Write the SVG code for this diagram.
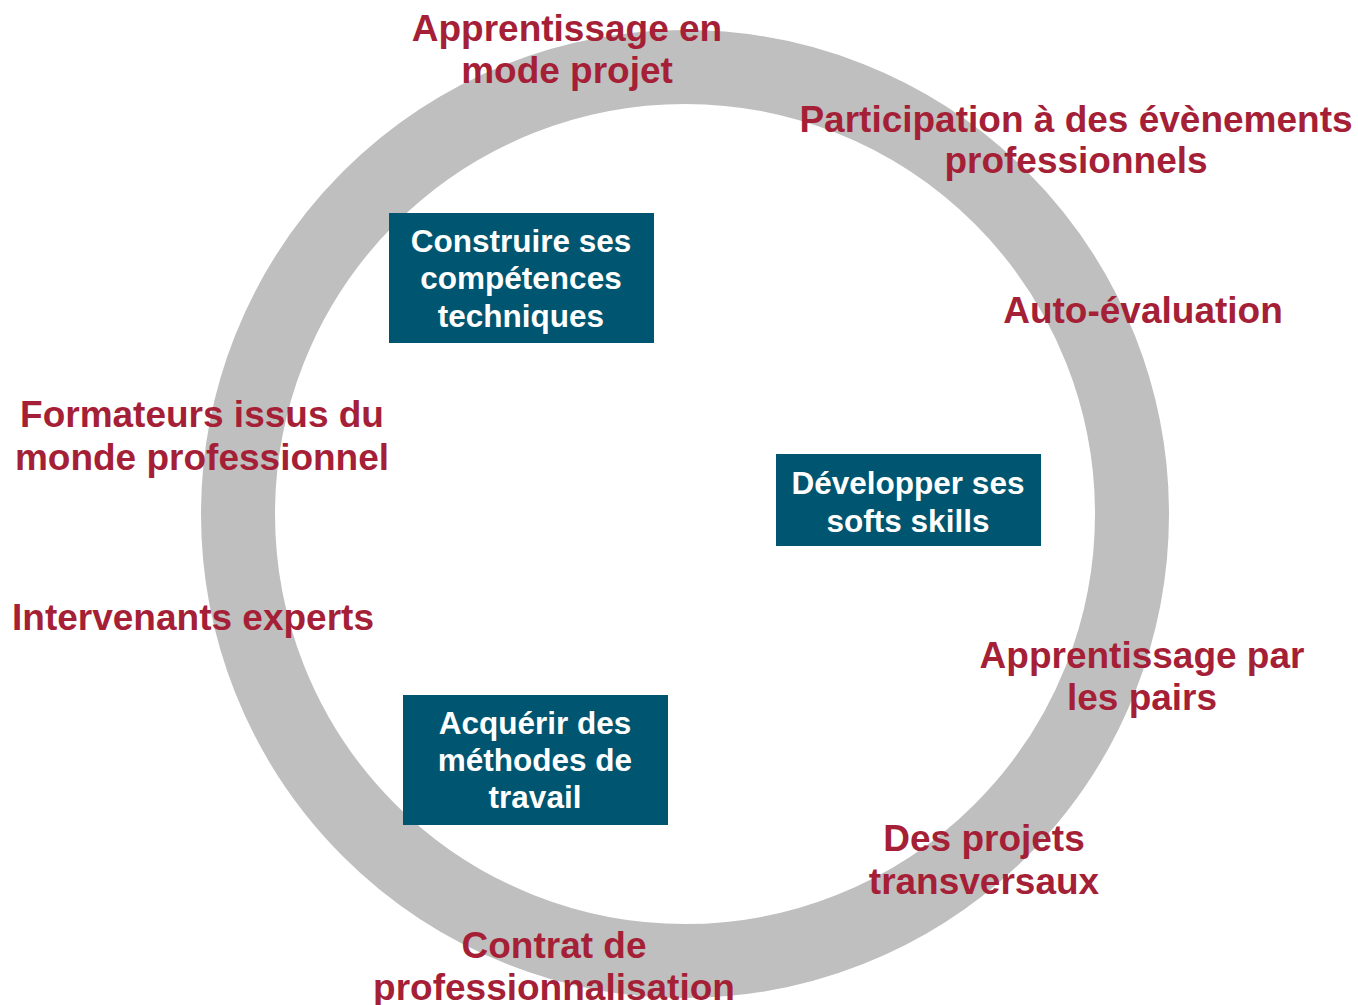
<svg xmlns="http://www.w3.org/2000/svg" width="1358" height="1005" viewBox="0 0 1358 1005">
<style>
.lbl{font-family:"Liberation Sans",Arial,sans-serif;font-weight:bold;font-size:37px;fill:#A51F37;text-anchor:middle}
.box{fill:#005670}
.bt{font-family:"Liberation Sans",Arial,sans-serif;font-weight:bold;font-size:31.5px;fill:#FFFFFF;text-anchor:middle}
</style>
<rect width="1358" height="1005" fill="#FFFFFF"/>
<g id="ring">
<circle cx="685" cy="514" r="447" fill="none" stroke="#BFBFBF" stroke-width="74"/>
</g>
<g id="connectors"></g>
<g id="node-construire">
<rect class="box" x="389" y="213" width="265" height="130"/>
<text class="bt" x="521" y="252">Construire ses</text>
<text class="bt" x="521" y="289">compétences</text>
<text class="bt" x="521" y="327">techniques</text>
</g>
<g id="node-developper">
<rect class="box" x="776" y="454" width="265" height="92"/>
<text class="bt" x="908" y="494">Développer ses</text>
<text class="bt" x="908" y="532">softs skills</text>
</g>
<g id="node-acquerir">
<rect class="box" x="403" y="695" width="265" height="130"/>
<text class="bt" x="535" y="734">Acquérir des</text>
<text class="bt" x="535" y="771">méthodes de</text>
<text class="bt" x="535" y="808">travail</text>
</g>
<g id="label-mode-projet">
<text class="lbl" x="567" y="41">Apprentissage en</text>
<text class="lbl" x="567" y="83">mode projet</text>
</g>
<g id="label-evenements">
<text class="lbl" x="1076" y="132">Participation à des évènements</text>
<text class="lbl" x="1076" y="173">professionnels</text>
</g>
<g id="label-auto">
<text class="lbl" x="1143" y="323">Auto-évaluation</text>
</g>
<g id="label-formateurs">
<text class="lbl" x="202" y="427">Formateurs issus du</text>
<text class="lbl" x="202" y="470">monde professionnel</text>
</g>
<g id="label-intervenants">
<text class="lbl" x="193" y="630">Intervenants experts</text>
</g>
<g id="label-pairs">
<text class="lbl" x="1142" y="668">Apprentissage par</text>
<text class="lbl" x="1142" y="710">les pairs</text>
</g>
<g id="label-transversaux">
<text class="lbl" x="984" y="851">Des projets</text>
<text class="lbl" x="984" y="894">transversaux</text>
</g>
<g id="label-contrat">
<text class="lbl" x="554" y="958">Contrat de</text>
<text class="lbl" x="554" y="1000">professionnalisation</text>
</g>
</svg>
